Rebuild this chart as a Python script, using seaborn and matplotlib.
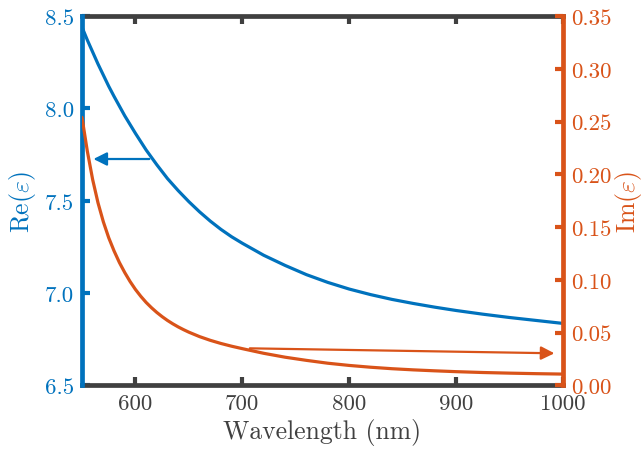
import matplotlib
matplotlib.use("Agg")
import matplotlib.pyplot as plt
import seaborn as sns
import pandas as pd

# Dielectric function of the film: real part
re_wavelength_nm = [550, 555, 560, 565, 570, 575, 580, 590, 600, 610, 620, 630, 640,
                    650, 660, 670, 680, 690, 700, 720, 740, 760, 780, 800, 820, 840,
                    860, 880, 900, 925, 950, 975, 1000]
eps_real = [8.44, 8.37, 8.305, 8.24, 8.18, 8.12, 8.065, 7.96, 7.865, 7.775, 7.695,
            7.62, 7.555, 7.495, 7.44, 7.39, 7.345, 7.305, 7.27, 7.205, 7.15, 7.10,
            7.058, 7.022, 6.992, 6.966, 6.944, 6.924, 6.906, 6.886, 6.868, 6.852,
            6.836]

# Dielectric function of the film: imaginary part
im_wavelength_nm = [550, 555, 560, 565, 570, 575, 580, 585, 590, 595, 600, 605, 610,
                    615, 620, 625, 630, 635, 640, 645, 650, 660, 670, 680, 690, 700,
                    720, 740, 760, 780, 800, 820, 840, 860, 880, 900, 925, 950, 975,
                    1000]
eps_imag = [0.254, 0.222, 0.195, 0.173, 0.155, 0.140, 0.1275, 0.1165, 0.107, 0.0985,
            0.091, 0.0845, 0.0787, 0.0737, 0.0692, 0.0652, 0.0616, 0.0584, 0.0555,
            0.0529, 0.0505, 0.0463, 0.0428, 0.0398, 0.0372, 0.0349, 0.0305, 0.0268,
            0.0238, 0.0211, 0.019, 0.0173, 0.0159, 0.0148, 0.0139, 0.0131, 0.0123,
            0.0117, 0.0112, 0.0108]

x_ticks = [600, 700, 800, 900, 1000]
re_ticks = [6.5, 7.0, 7.5, 8.0, 8.5]
im_ticks = [0.00, 0.05, 0.10, 0.15, 0.20, 0.25, 0.30, 0.35]

BLUE = "#0072BD"
ORANGE = "#D95319"
GREY = "#404040"

sns.set_style("white")
plt.rcParams["font.family"] = ["cmr10", "DejaVu Serif"]
plt.rcParams["mathtext.fontset"] = "cm"
plt.rcParams["axes.formatter.use_mathtext"] = True
plt.rcParams["axes.unicode_minus"] = False

df_re = pd.DataFrame({"wl": re_wavelength_nm, "re": eps_real})
df_im = pd.DataFrame({"wl": im_wavelength_nm, "im": eps_imag})

fig = plt.figure(figsize=(6.44, 4.60), dpi=100)
ax = fig.add_axes([0.1273, 0.1598, 0.7469, 0.8032])
ax2 = ax.twinx()

sns.lineplot(data=df_re, x="wl", y="re", ax=ax, color=BLUE, linewidth=2.3)
sns.lineplot(data=df_im, x="wl", y="im", ax=ax2, color=ORANGE, linewidth=2.3)

TICK_FS = 16.5
LABEL_FS = 18.5
ax.set_xlim(550, 1000)
ax.set_ylim(6.5, 8.5)
ax2.set_ylim(0, 0.35)
ax.set_xticks(x_ticks)
ax.set_xticklabels([str(t) for t in x_ticks])
ax.set_yticks(re_ticks)
ax.set_yticklabels([f"{t:.1f}" for t in re_ticks])
ax2.set_yticks(im_ticks)
ax2.set_yticklabels([f"{t:.2f}" for t in im_ticks])

ax.set_xlabel("Wavelength (nm)", fontsize=LABEL_FS, color=GREY, labelpad=3)
ax.set_ylabel(r"$\mathrm{Re}(\varepsilon)$", fontsize=LABEL_FS, color=BLUE,
              labelpad=5)
ax2.set_ylabel(r"$\mathrm{Im}(\varepsilon)$", fontsize=LABEL_FS, color=ORANGE,
               labelpad=1)

lw_sp = 3.4
for name, sp in ax.spines.items():
    sp.set_linewidth(lw_sp)
    sp.set_capstyle("projecting")
ax.spines["left"].set_color(BLUE)
ax.spines["left"].set_zorder(3)
ax.spines["top"].set_color(GREY)
ax.spines["bottom"].set_color(GREY)
ax.spines["right"].set_visible(False)
for name, sp in ax2.spines.items():
    sp.set_visible(False)
ax2.spines["right"].set_visible(True)
ax2.spines["right"].set_color(ORANGE)
ax2.spines["right"].set_linewidth(lw_sp)
ax2.spines["right"].set_capstyle("projecting")
ax2.spines["right"].set_zorder(3)

ax.tick_params(axis="x", which="both", direction="in", length=5.5, width=3,
               color=GREY, labelcolor=GREY, labelsize=TICK_FS, pad=6,
               top=True, bottom=True)
ax.tick_params(axis="y", which="both", direction="in", length=5.5, width=3,
               color=BLUE, labelcolor=BLUE, labelsize=TICK_FS, pad=6,
               left=True, right=False)
ax2.tick_params(axis="y", which="both", direction="in", length=5.5, width=3,
                color=ORANGE, labelcolor=ORANGE, labelsize=TICK_FS, pad=6,
                left=False, right=True)

# Arrows pointing each curve to its axis
ax.annotate("", xy=(560.7, 7.726), xytext=(613, 7.726),
            arrowprops=dict(arrowstyle="-|>", color=BLUE, lw=1.6,
                            mutation_scale=20, shrinkA=0, shrinkB=0))
ax2.annotate("", xy=(992, 0.0305), xytext=(707, 0.0352),
             arrowprops=dict(arrowstyle="-|>", color=ORANGE, lw=1.6,
                             mutation_scale=20, shrinkA=0, shrinkB=0))

ax.grid(False)
ax2.grid(False)
fig.savefig("out.png", dpi=100)
